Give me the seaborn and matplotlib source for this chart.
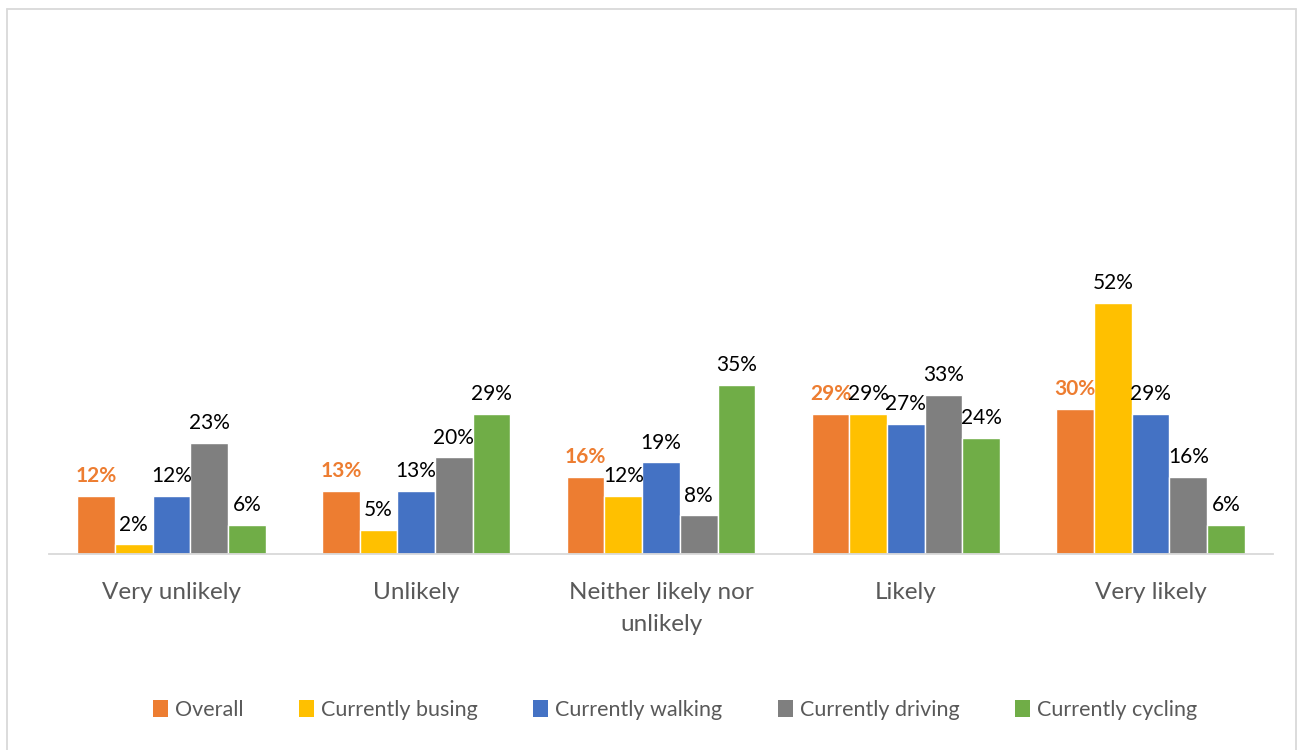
import matplotlib
matplotlib.use("Agg")
import matplotlib.pyplot as plt
from matplotlib.lines import Line2D
import pandas as pd
import seaborn as sns

categories = ["Very unlikely", "Unlikely", "Neither likely nor\nunlikely", "Likely", "Very likely"]
series = ["Overall", "Currently busing", "Currently walking", "Currently driving", "Currently cycling"]
overall = [12, 13, 16, 29, 30]
busing = [2, 5, 12, 29, 52]
walking = [12, 13, 19, 27, 29]
driving = [23, 20, 8, 33, 16]
cycling = [6, 29, 35, 24, 6]
colors = ["#ED7D31", "#FFC000", "#4472C4", "#7F7F7F", "#70AD47"]

values = [overall, busing, walking, driving, cycling]
rows = []
for name, vals in zip(series, values):
    for cat, v in zip(categories, vals):
        rows.append({"category": cat, "series": name, "value": v})
df = pd.DataFrame(rows)

sns.set_style("white")
plt.rcParams["font.family"] = ["Lato", "DejaVu Sans"]

fig = plt.figure(figsize=(12.98, 7.5), dpi=100)
ax = fig.add_axes([49 / 1298, 1 - 554 / 750, (1273 - 49) / 1298, 483 / 750])

sns.barplot(data=df, x="category", y="value", hue="series", order=categories,
            hue_order=series, palette=colors, width=0.77, saturation=1,
            ax=ax, legend=False)

ax.set_ylim(0, 100)
ax.set_xlim(-0.5, len(categories) - 0.5)
ax.set_xlabel("")
ax.set_ylabel("")
ax.set_yticks([])
for side in ["top", "right", "left"]:
    ax.spines[side].set_visible(False)
ax.spines["bottom"].set_color("#D9D9D9")
ax.spines["bottom"].set_linewidth(1.3)

# category labels, with boundary tick marks between groups
ax.tick_params(axis="x", which="major", length=0, pad=20, labelsize=17.5, labelcolor="#595959")
ax.set_xticks([i - 0.5 for i in range(len(categories) + 1)], minor=True)
ax.tick_params(axis="x", which="minor", length=7, width=1.3, color="#D9D9D9")
for lbl in ax.get_xticklabels():
    lbl.set_verticalalignment("top")
    lbl.set_linespacing(1.65)

# value labels above each bar
for i, container in enumerate(ax.containers):
    labels = [f"{v}%" for v in values[i]]
    if i == 0:
        ax.bar_label(container, labels=labels, padding=7, fontsize=15,
                     color="#ED7D31", fontweight="bold")
    else:
        ax.bar_label(container, labels=labels, padding=7, fontsize=15, color="black")

handles = [plt.Rectangle((0, 0), 1, 1, facecolor=c, edgecolor="none") for c in colors]
fig.legend(handles, series, loc="center", bbox_to_anchor=(675 / 1298, 1 - 710 / 750),
           ncol=5, frameon=False, fontsize=15.5, handlelength=0.7, handleheight=0.8,
           handletextpad=0.3, columnspacing=2.6, labelcolor="#595959")

# chart area border
bc = "#D9D9D9"
x0, x1 = 7 / 1298, 1296 / 1298
y_top = 1 - 9 / 750
fig.add_artist(Line2D([x0, x1], [y_top, y_top], color=bc, lw=1.3, transform=fig.transFigure))
fig.add_artist(Line2D([x0, x0], [0, y_top], color=bc, lw=1.3, transform=fig.transFigure))
fig.add_artist(Line2D([x1, x1], [0, y_top], color=bc, lw=1.3, transform=fig.transFigure))

fig.savefig("out.png", dpi=100)
